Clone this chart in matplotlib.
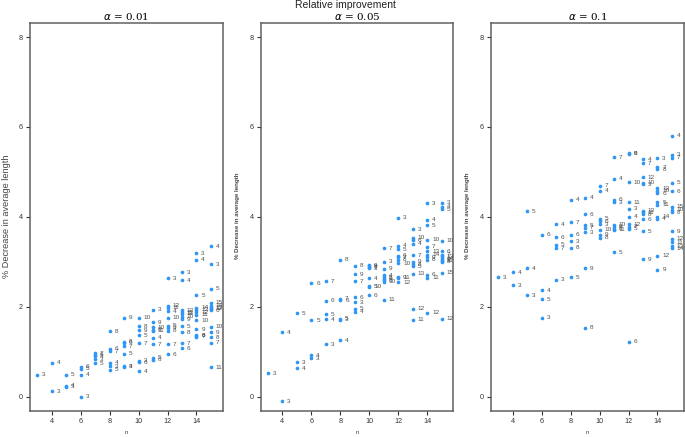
import numpy as np
import matplotlib
matplotlib.use("Agg")
import matplotlib.pyplot as plt

plt.rcParams["font.family"] = ["Liberation Sans", "DejaVu Sans"]

# n runs 3..15, each row lists the value for k = 3..n
n_values = list(range(3, 16))
titles = [r"$\alpha$ = 0.01", r"$\alpha$ = 0.05", r"$\alpha$ = 0.1"]

y_a001 = [
    [0.49],
    [0.12, 0.75],
    [0.22, 0.24, 0.49],
    [0.00, 0.49, 0.62, 0.66],
    [0.83, 0.90, 0.74, 0.93, 0.97],
    [0.68, 0.75, 0.60, 1.07, 1.01, 1.46],
    [0.68, 0.66, 0.95, 1.20, 1.12, 1.22, 1.75],
    [0.80, 0.56, 1.37, 0.76, 1.19, 1.57, 1.48, 1.75],
    [1.93, 1.31, 0.87, 0.82, 1.16, 1.49, 1.66, 1.54, 1.47],
    [2.63, 1.90, 1.58, 0.94, 1.16, 1.47, 1.53, 1.75, 1.98, 2.02],
    [2.77, 2.59, 1.57, 1.08, 1.19, 1.43, 1.72, 1.78, 1.84, 1.92, 1.88],
    [3.19, 3.05, 2.26, 1.35, 1.33, 1.36, 1.50, 1.70, 1.82, 1.88, 1.93, 1.98],
    [2.94, 3.35, 2.40, 1.92, 1.20, 1.32, 1.43, 1.55, 0.65, 1.95, 1.98, 2.02, 2.09],
]

y_a005 = [
    [0.52],
    [-0.10, 1.43],
    [0.77, 0.63, 1.85],
    [0.85, 0.92, 1.70, 2.52],
    [1.16, 1.72, 1.83, 2.13, 2.57],
    [1.71, 1.25, 1.73, 2.14, 2.18, 3.04],
    [2.10, 1.89, 1.96, 2.21, 2.57, 2.91, 2.72],
    [2.86, 2.63, 2.44, 2.26, 2.88, 2.90, 2.92, 2.46],
    [3.00, 2.70, 2.66, 2.62, 3.30, 2.59, 2.84, 2.56, 2.16],
    [3.98, 3.36, 3.28, 3.14, 3.10, 3.05, 2.66, 2.97, 2.64, 2.55],
    [3.72, 3.40, 2.90, 3.48, 3.15, 2.95, 3.00, 3.54, 1.71, 1.96, 2.73],
    [4.30, 3.94, 3.81, 2.71, 3.33, 3.05, 3.10, 3.49, 2.64, 1.87, 3.23, 3.16],
    [4.31, 4.22, 4.17, 3.23, 3.16, 3.00, 3.05, 3.47, 3.02, 1.73, 3.12, 3.08, 2.76],
]

y_a01 = [
    [2.66],
    [2.48, 2.77],
    [2.25, 2.86, 4.12],
    [1.76, 2.37, 2.17, 3.60],
    [2.60, 3.83, 3.38, 3.55, 3.30],
    [3.46, 4.38, 2.66, 3.60, 3.88, 3.31],
    [3.66, 4.43, 3.81, 4.06, 3.76, 1.53, 2.86],
    [3.83, 4.58, 3.96, 3.90, 4.69, 3.54, 3.60, 3.71],
    [4.32, 4.85, 3.21, 4.38, 5.33, 3.74, 3.78, 3.82, 3.71],
    [4.18, 4.00, 3.74, 1.22, 3.78, 5.42, 5.40, 4.77, 4.33, 3.83],
    [4.73, 5.28, 3.68, 3.95, 5.19, 4.06, 3.06, 4.76, 4.10, 4.88, 4.14],
    [5.30, 3.96, 4.32, 4.52, 5.10, 5.06, 2.82, 4.58, 4.27, 3.13, 4.64, 4.00],
    [5.38, 5.80, 4.76, 4.57, 5.32, 4.10, 3.68, 4.16, 3.43, 3.51, 3.35, 3.30, 4.22],
]

panels = [y_a001, y_a005, y_a01]

fig = plt.figure(figsize=(6.85, 4.37), dpi=100)
W, H = 685, 437
lefts = [30, 260.7, 491]
ylab_x = [7, 238, 468]
bottom = 26 / H
height = 388.3 / H
width = 192.5 / W

frame_col = "#606060"
dot_col = "#2F96F5"
txt_col = "#505050"
ylabel = "% Decrease in average length"

for i, (rows, title) in enumerate(zip(panels, titles)):
    ax = fig.add_axes([lefts[i] / W, bottom, width, height])
    for n, row in zip(n_values, rows):
        ks = list(range(3, n + 1))
        ax.scatter([n] * len(row), row, s=7, color=dot_col, lw=0, zorder=3)
        for k, y in zip(ks, row):
            ax.annotate(str(k), (n, y), xytext=(3.5, 0), textcoords="offset points",
                        fontsize=4.6, color=txt_col, va="center", ha="left")
    ax.set_xlim(2.5, 15.8)
    ax.set_ylim(-0.32, 8.32)
    ax.set_xticks([4, 6, 8, 10, 12, 14])
    ax.set_yticks([0, 2, 4, 6, 8])
    ax.tick_params(labelsize=5.2, colors="#333333", length=3, width=0.8, pad=2)
    for sp in ax.spines.values():
        sp.set_color(frame_col)
        sp.set_linewidth(1.1)
    ax.set_title(title, fontsize=7.5, family="DejaVu Serif", pad=2)
    fig.text((lefts[i] + width * W / 2) / W, 1 - 432 / H, "n", fontsize=4.5,
             color="#444444", ha="center", va="center")
    if i == 0:
        fig.text(ylab_x[i] / W, 1 - 216 / H, ylabel, rotation=90, fontsize=6.6,
                 color="#444444", ha="center", va="center")
    else:
        fig.text(ylab_x[i] / W, 1 - 216 / H, ylabel, rotation=90, fontsize=4.4,
                 fontweight="bold", color="#444444", ha="center", va="center")

fig.text(345 / W, 1 - 5 / H, "Relative improvement", ha="center", va="center",
         fontsize=7.5, color="#222222")

fig.savefig("out.png", dpi=100)
